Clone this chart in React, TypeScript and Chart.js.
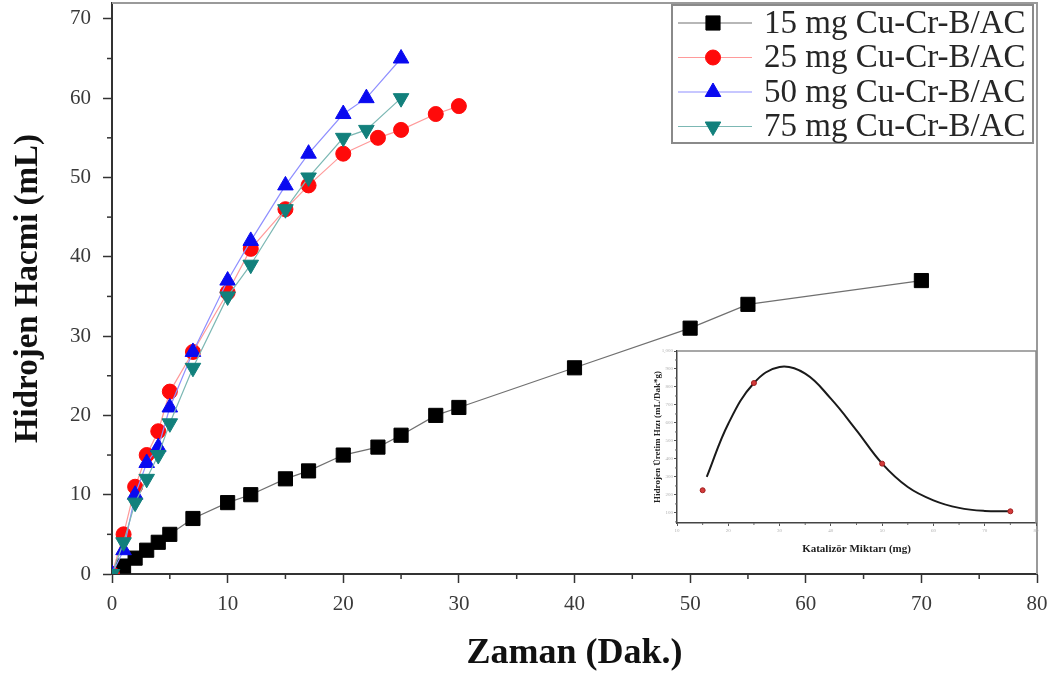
import React, { useEffect, useRef } from "react";
import { Chart, registerables } from "chart.js";

Chart.register(...registerables);

const SERIF = '"Liberation Serif", "Times New Roman", serif';

// ---------- Main chart data ----------
const seriesLabels = [
  "15 mg Cu-Cr-B/AC",
  "25 mg Cu-Cr-B/AC",
  "50 mg Cu-Cr-B/AC",
  "75 mg Cu-Cr-B/AC",
];

const time15 = [0, 1, 2, 3, 4, 5, 7, 10, 12, 15, 17, 20, 23, 25, 28, 30, 40, 50, 55, 70];
const vol15 = [0, 1, 2, 3, 4, 5, 7, 9, 10, 12, 13, 15, 16, 17.5, 20, 21, 26, 31, 34, 37];

const time25 = [0, 1, 2, 3, 4, 5, 7, 10, 12, 15, 17, 20, 23, 25, 28, 30];
const vol25 = [0, 5, 11, 15, 18, 23, 28, 35.5, 41, 46, 49, 53, 55, 56, 58, 59];

const time50 = [0, 1, 2, 3, 4, 5, 7, 10, 12, 15, 17, 20, 22, 25];
const vol50 = [0, 3, 10, 14, 16, 21, 28, 37, 42, 49, 53, 58, 60, 65];

const time75 = [0, 1, 2, 3, 4, 5, 7, 10, 12, 15, 17, 20, 22, 25];
const vol75 = [0, 4, 9, 12, 15, 19, 26, 35, 39, 46, 50, 55, 56, 60];

const xTickValues = [0, 10, 20, 30, 40, 50, 60, 70, 80];
const xMinorValues = [5, 15, 25, 35, 45, 55, 65, 75];
const yTickValues = [0, 10, 20, 30, 40, 50, 60, 70];
const yMinorValues = [5, 15, 25, 35, 45, 55, 65];

// ---------- Inset data ----------
const insetMass = [15, 25, 50, 75];
const insetRate = [226, 822, 374, 109];
const fitMass = [15.8, 20, 25, 30, 35, 40, 45, 50, 55, 60, 65, 70, 75];
const fitRate = [300, 596, 822, 911, 874, 735, 559, 374, 244, 170, 128, 111, 109];
const insetXTicks = [10, 20, 30, 40, 50, 60, 70, 80];
const insetXMinor = [15, 25, 35, 45, 55, 65, 75];
const insetYTicks = [100, 200, 300, 400, 500, 600, 700, 800, 900, 1000];
const insetYMinor = [50, 150, 250, 350, 450, 550, 650, 750, 850, 950];

function toPoints(xs: number[], ys: number[]) {
  return xs.map((x, i) => ({ x, y: ys[i] }));
}

function drawMarker(
  ctx: CanvasRenderingContext2D,
  style: string,
  x: number,
  y: number,
  r: number,
  color: string
) {
  ctx.save();
  ctx.fillStyle = color;
  ctx.strokeStyle = color;
  ctx.lineWidth = 1;
  ctx.beginPath();
  if (style === "rect") {
    const s = Math.SQRT1_2 * r;
    ctx.rect(x - s, y - s, 2 * s, 2 * s);
  } else if (style === "circle") {
    ctx.arc(x, y, r, 0, Math.PI * 2);
  } else if (style === "triangle") {
    ctx.moveTo(x, y - r);
    ctx.lineTo(x + 0.866 * r, y + 0.5 * r);
    ctx.lineTo(x - 0.866 * r, y + 0.5 * r);
    ctx.closePath();
  } else {
    ctx.moveTo(x, y + r);
    ctx.lineTo(x + 0.866 * r, y - 0.5 * r);
    ctx.lineTo(x - 0.866 * r, y - 0.5 * r);
    ctx.closePath();
  }
  ctx.fill();
  ctx.stroke();
  ctx.restore();
}

const markerStyles = ["rect", "circle", "triangle", "triangleDown"];
const markerColors = ["#000000", "#ff0a0a", "#0a0af0", "#12807c"];
const lineColors = ["#707070", "#ff9a9a", "#8f8fff", "#7cb8b4"];
const markerRadius = [10, 7.5, 9, 9];

const mainPlugin = {
  id: "mainDecor",
  beforeDraw(chart: any) {
    const ctx = chart.ctx;
    ctx.save();
    ctx.fillStyle = "#ffffff";
    ctx.fillRect(0, 0, chart.width, chart.height);
    ctx.restore();
  },
  afterDraw(chart: any) {
    const ctx: CanvasRenderingContext2D = chart.ctx;
    const a = chart.chartArea;
    const xs = chart.scales.x;
    const ys = chart.scales.y;
    ctx.save();
    // top & right frame
    ctx.strokeStyle = "#9a9a9a";
    ctx.lineWidth = 2;
    ctx.beginPath();
    ctx.moveTo(a.left, a.top);
    ctx.lineTo(a.right, a.top);
    ctx.lineTo(a.right, a.bottom);
    ctx.stroke();
    // minor ticks
    ctx.strokeStyle = "#333";
    ctx.lineWidth = 1.5;
    xMinorValues.forEach((v) => {
      const px = xs.getPixelForValue(v);
      ctx.beginPath();
      ctx.moveTo(px, a.bottom);
      ctx.lineTo(px, a.bottom + 5);
      ctx.stroke();
    });
    yMinorValues.forEach((v) => {
      const py = ys.getPixelForValue(v);
      ctx.beginPath();
      ctx.moveTo(a.left, py);
      ctx.lineTo(a.left - 5, py);
      ctx.stroke();
    });
    // legend
    const lx = a.right - 365;
    const ly = a.top + 2;
    const w = 361;
    const h = 138;
    ctx.fillStyle = "#ffffff";
    ctx.fillRect(lx, ly, w, h);
    ctx.strokeStyle = "#8a8a8a";
    ctx.lineWidth = 2;
    ctx.strokeRect(lx, ly, w, h);
    seriesLabels.forEach((label, i) => {
      const cy = ly + 18 + i * 34.5;
      ctx.strokeStyle = lineColors[i];
      ctx.lineWidth = 1.2;
      ctx.beginPath();
      ctx.moveTo(lx + 6, cy);
      ctx.lineTo(lx + 80, cy);
      ctx.stroke();
      drawMarker(ctx, markerStyles[i], lx + 41, cy, markerRadius[i], markerColors[i]);
      ctx.fillStyle = "#262626";
      ctx.font = `33px ${SERIF}`;
      ctx.textBaseline = "middle";
      ctx.textAlign = "left";
      ctx.fillText(label, lx + 92, cy + 1);
    });
    ctx.restore();
  },
};

const insetPlugin = {
  id: "insetDecor",
  afterDraw(chart: any) {
    const ctx: CanvasRenderingContext2D = chart.ctx;
    const a = chart.chartArea;
    const xs = chart.scales.x;
    const ys = chart.scales.y;
    ctx.save();
    ctx.strokeStyle = "#8a8a8a";
    ctx.lineWidth = 1.5;
    ctx.beginPath();
    ctx.moveTo(a.left, a.top);
    ctx.lineTo(a.right, a.top);
    ctx.lineTo(a.right, a.bottom);
    ctx.stroke();
    ctx.strokeStyle = "#666";
    ctx.lineWidth = 1;
    insetXMinor.forEach((v) => {
      const px = xs.getPixelForValue(v);
      ctx.beginPath();
      ctx.moveTo(px, a.bottom);
      ctx.lineTo(px, a.bottom + 2);
      ctx.stroke();
    });
    insetYMinor.forEach((v) => {
      const py = ys.getPixelForValue(v);
      ctx.beginPath();
      ctx.moveTo(a.left, py);
      ctx.lineTo(a.left - 2, py);
      ctx.stroke();
    });
    ctx.restore();
  },
};

function zeroPad(s: any) {
  s.paddingTop = 0;
  s.paddingBottom = 0;
  s.paddingLeft = 0;
  s.paddingRight = 0;
}

export default function App() {
  const mainRef = useRef<HTMLCanvasElement | null>(null);
  const insetRef = useRef<HTMLCanvasElement | null>(null);

  useEffect(() => {
    document.body.style.margin = "0";
    const datasets = [
      { t: time15, v: vol15 },
      { t: time25, v: vol25 },
      { t: time50, v: vol50 },
      { t: time75, v: vol75 },
    ].map((s, i) => ({
      label: seriesLabels[i],
      data: toPoints(s.t, s.v),
      showLine: true,
      borderColor: lineColors[i],
      borderWidth: 1.2,
      pointStyle: i === 3 ? "triangle" : markerStyles[i],
      pointRotation: i === 3 ? 180 : 0,
      pointRadius: markerRadius[i],
      pointBackgroundColor: markerColors[i],
      pointBorderColor: markerColors[i],
      pointBorderWidth: 1,
      order: 3 - i,
    }));

    const main = new Chart(mainRef.current as HTMLCanvasElement, {
      type: "scatter",
      data: { datasets: datasets as any },
      options: {
        responsive: false,
        animation: false,
        layout: { autoPadding: false, padding: { top: 3, right: 18, left: 0, bottom: 0 } },
        plugins: { legend: { display: false }, tooltip: { enabled: false } },
        scales: {
          x: {
            type: "linear",
            min: 0,
            max: 80,
            afterBuildTicks: (s: any) => {
              s.ticks = xTickValues.map((v) => ({ value: v }));
            },
            afterFit: (s: any) => {
              s.height = 101;
              zeroPad(s);
            },
            grid: {
              drawOnChartArea: false,
              drawTicks: true,
              tickLength: 9,
              tickColor: "#333",
              tickWidth: 1.5,
            },
            border: { display: true, color: "#333", width: 2 },
            ticks: {
              color: "#3a3a3a",
              font: { family: SERIF, size: 21 },
              padding: 9,
              maxRotation: 0,
              autoSkip: false,
            },
            title: {
              display: true,
              text: "Zaman (Dak.)",
              color: "#111",
              font: { family: SERIF, size: 36, weight: "bold" },
              padding: { top: 0, bottom: 0 },
            },
          },
          y: {
            type: "linear",
            min: 0,
            max: 72,
            afterBuildTicks: (s: any) => {
              s.ticks = yTickValues.map((v) => ({ value: v }));
            },
            afterFit: (s: any) => {
              s.width = 112;
              zeroPad(s);
            },
            grid: {
              drawOnChartArea: false,
              drawTicks: true,
              tickLength: 9,
              tickColor: "#333",
              tickWidth: 1.5,
            },
            border: { display: true, color: "#333", width: 2 },
            ticks: {
              color: "#3a3a3a",
              font: { family: SERIF, size: 21 },
              padding: 12,
              autoSkip: false,
            },
            title: {
              display: true,
              text: "Hidrojen Hacmi (mL)",
              color: "#111",
              font: { family: SERIF, size: 33, weight: "bold" },
              padding: { top: 9, bottom: 0 },
            },
          },
        },
      },
      plugins: [mainPlugin],
    });

    const inset = new Chart(insetRef.current as HTMLCanvasElement, {
      type: "scatter",
      data: {
        datasets: [
          {
            label: "points",
            data: toPoints(insetMass, insetRate),
            showLine: false,
            pointRadius: 2.5,
            pointBackgroundColor: "#d43a3a",
            pointBorderColor: "#a02020",
            pointBorderWidth: 1,
            order: 0,
          },
          {
            label: "fit",
            data: toPoints(fitMass, fitRate),
            showLine: true,
            borderColor: "#1a1a1a",
            borderWidth: 2,
            pointRadius: 0,
            tension: 0.4,
            order: 1,
          },
        ] as any,
      },
      options: {
        responsive: false,
        animation: false,
        layout: { autoPadding: false, padding: { top: 11, right: 9, left: 0, bottom: 0 } },
        plugins: { legend: { display: false }, tooltip: { enabled: false } },
        scales: {
          x: {
            type: "linear",
            min: 10,
            max: 80,
            afterBuildTicks: (s: any) => {
              s.ticks = insetXTicks.map((v) => ({ value: v }));
            },
            afterFit: (s: any) => {
              s.height = 42;
              zeroPad(s);
            },
            grid: {
              drawOnChartArea: false,
              drawTicks: true,
              tickLength: 3,
              tickColor: "#555",
              tickWidth: 1,
            },
            border: { display: true, color: "#444", width: 1.5 },
            ticks: {
              color: "#b0b0b0",
              font: { family: SERIF, size: 5 },
              padding: 2,
              maxRotation: 0,
              autoSkip: false,
            },
            title: {
              display: true,
              text: "Katalizör Miktarı (mg)",
              color: "#222",
              font: { family: SERIF, size: 11, weight: "bold" },
              padding: { top: 0, bottom: 9 },
            },
          },
          y: {
            type: "linear",
            min: 44,
            max: 1000,
            afterBuildTicks: (s: any) => {
              s.ticks = insetYTicks.map((v) => ({ value: v }));
            },
            afterFit: (s: any) => {
              s.width = 47;
              zeroPad(s);
            },
            grid: {
              drawOnChartArea: false,
              drawTicks: true,
              tickLength: 3,
              tickColor: "#555",
              tickWidth: 1,
            },
            border: { display: true, color: "#444", width: 1.5 },
            ticks: {
              color: "#b0b0b0",
              font: { family: SERIF, size: 5 },
              padding: 1,
              autoSkip: false,
            },
            title: {
              display: true,
              text: "Hidrojen Üretim Hızı (mL/Dak*g)",
              color: "#222",
              font: { family: SERIF, size: 9, weight: "bold" },
              padding: { top: 22, bottom: 0 },
            },
          },
        },
      },
      plugins: [insetPlugin],
    });

    return () => {
      main.destroy();
      inset.destroy();
    };
  }, []);

  return (
    <div style={{ position: "relative", width: 1055, height: 675, background: "#fff" }}>
      <canvas
        ref={mainRef}
        width={1055}
        height={675}
        style={{ position: "absolute", left: 0, top: 0, width: 1055, height: 675 }}
      />
      <canvas
        ref={insetRef}
        width={415}
        height={225}
        style={{ position: "absolute", left: 630, top: 340, width: 415, height: 225 }}
      />
    </div>
  );
}
